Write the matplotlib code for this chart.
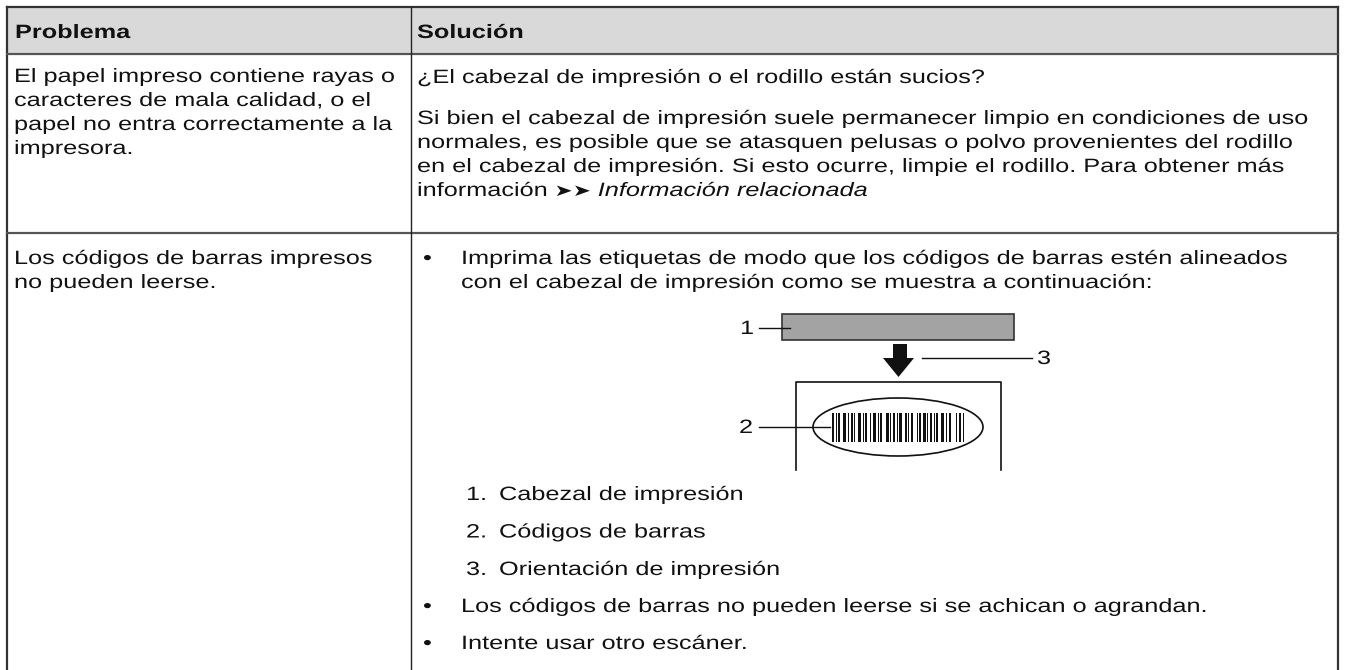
import matplotlib
matplotlib.use("Agg")
import matplotlib.pyplot as plt
from matplotlib.patches import Rectangle, Ellipse, Polygon
from matplotlib.patheffects import AbstractPathEffect
from matplotlib.transforms import Affine2D

plt.rcParams['font.family'] = ['Liberation Sans', 'DejaVu Sans']

# table text
headers = ["Problema", "Solución"]
row1_problem = ["El papel impreso contiene rayas o",
                "caracteres de mala calidad, o el",
                "papel no entra correctamente a la",
                "impresora."]
row1_q = "¿El cabezal de impresión o el rodillo están sucios?"
row1_sol = ["Si bien el cabezal de impresión suele permanecer limpio en condiciones de uso",
            "normales, es posible que se atasquen pelusas o polvo provenientes del rodillo",
            "en el cabezal de impresión. Si esto ocurre, limpie el rodillo. Para obtener más"]
row1_last = ["información ", "➤➤", " Información relacionada"]
row2_problem = ["Los códigos de barras impresos", "no pueden leerse."]
row2_bullet1 = ["Imprima las etiquetas de modo que los códigos de barras estén alineados",
                "con el cabezal de impresión como se muestra a continuación:"]
legend_items = ["Cabezal de impresión", "Códigos de barras", "Orientación de impresión"]
row2_bullets = ["Los códigos de barras no pueden leerse si se achican o agrandan.",
                "Intente usar otro escáner."]
callouts = ["1", "2", "3"]
# barcode pattern: (bar width, gap after) in px
barcode = [(2, 2), (1, 1), (2, 3), (3, 2), (1, 2), (2, 1), (1, 3), (3, 2), (1, 1), (2, 3),
           (1, 2), (3, 2), (1, 1), (2, 4), (3, 1), (1, 2), (2, 2), (1, 1), (3, 3), (2, 1),
           (1, 2), (2, 4), (1, 1), (2, 2), (3, 1), (1, 2), (2, 2), (1, 1), (2, 3), (3, 2),
           (1, 2), (2, 5), (1, 2), (2, 2), (1, 0)]


# the page is drawn wide: glyphs are stretched sideways
class StretchX(AbstractPathEffect):
    def __init__(self, sx):
        super().__init__()
        self.sx = sx

    def draw_path(self, renderer, gc, tpath, affine, rgbFace=None):
        renderer.draw_path(gc, tpath, Affine2D().scale(self.sx, 1) + affine, rgbFace)


SX = 1.31
W, H = 1346, 670
fig = plt.figure(figsize=(W / 100, H / 100), dpi=100)
ax = fig.add_axes([0, 0, 1, 1])
ax.set_xlim(0, W)
ax.set_ylim(H, 0)
ax.axis("off")

FS = 13.9
L, R, T = 7, 1338, 7
HB, RB = 54, 233
CD = 411

# header
ax.add_patch(Rectangle((L, T), R - L, HB - T, facecolor="#d9d9d9", edgecolor="none"))
ax.plot([L, R], [T, T], color="#333333", lw=1.6)
ax.plot([L, L], [T, H], color="#333333", lw=1.6)
ax.plot([R, R], [T, H], color="#333333", lw=1.6)
ax.plot([L, R], [HB, HB], color="#555555", lw=1.6)
ax.plot([L, R], [RB, RB], color="#555555", lw=1.6)
ax.plot([CD, CD], [T, H], color="#222222", lw=1.0)


def txt(x, y, s, **kw):
    return ax.text(x, y + 7, s, fontsize=kw.pop("fs", FS), va="baseline", ha="left",
                   color="#111111", path_effects=[StretchX(SX)], **kw)


txt(15, 31, headers[0], weight="bold")
txt(417, 31, headers[1], weight="bold")

for i, s in enumerate(row1_problem):
    txt(14, 75 + 24 * i, s)
txt(417, 76, row1_q)
for i, s in enumerate(row1_sol):
    txt(417, 117 + 24 * i, s)

# last line: plain, arrows, italic
fig.canvas.draw()
rend = fig.canvas.get_renderer()
x = 417
y = 117 + 24 * 3
for s, kw in zip(row1_last, [{}, {"family": ["DejaVu Sans"], "fs": 12, "weight": "bold"},
                             {"style": "italic"}]):
    t = txt(x, y, s, **kw)
    x += t.get_window_extent(rend).width * SX

for i, s in enumerate(row2_problem):
    txt(14, 257 + 24 * i, s)

txt(423, 257, "•")
for i, s in enumerate(row2_bullet1):
    txt(461, 257 + 24 * i, s)

# diagram
ax.add_patch(Rectangle((782, 314), 232, 26, facecolor="#a3a3a3", edgecolor="#333333", lw=1.2))
ax.plot([759, 790], [328, 328], color="#111111", lw=1.0)
txt(740, 327, callouts[0])
ax.add_patch(Polygon([(893, 344), (907, 344), (907, 358), (914, 358), (898.5, 377),
                      (883, 358), (893, 358)], closed=True, facecolor="#111111", edgecolor="none"))
ax.plot([922, 1032], [358, 358], color="#111111", lw=1.0)
txt(1037, 357, callouts[2])
ax.plot([796, 796, 1001, 1001], [470, 382, 382, 470], color="#111111", lw=1.2)
ax.add_patch(Ellipse((898, 427), 170, 58, facecolor="white", edgecolor="#111111", lw=1.2))
ax.plot([759, 830], [427, 427], color="#111111", lw=1.0)
txt(739, 426, callouts[1])
bx = 832
for w, g in barcode:
    ax.add_patch(Rectangle((bx, 413), w, 29, facecolor="#111111", edgecolor="none"))
    bx += w + g

for i, s in enumerate(legend_items):
    y = 493 + 37.5 * i
    txt(466, y, f"{i + 1}.")
    txt(499, y, s)

for i, s in enumerate(row2_bullets):
    y = 605 + 37 * i
    txt(423, y, "•")
    txt(461, y, s)

fig.savefig("out.png", dpi=100)
